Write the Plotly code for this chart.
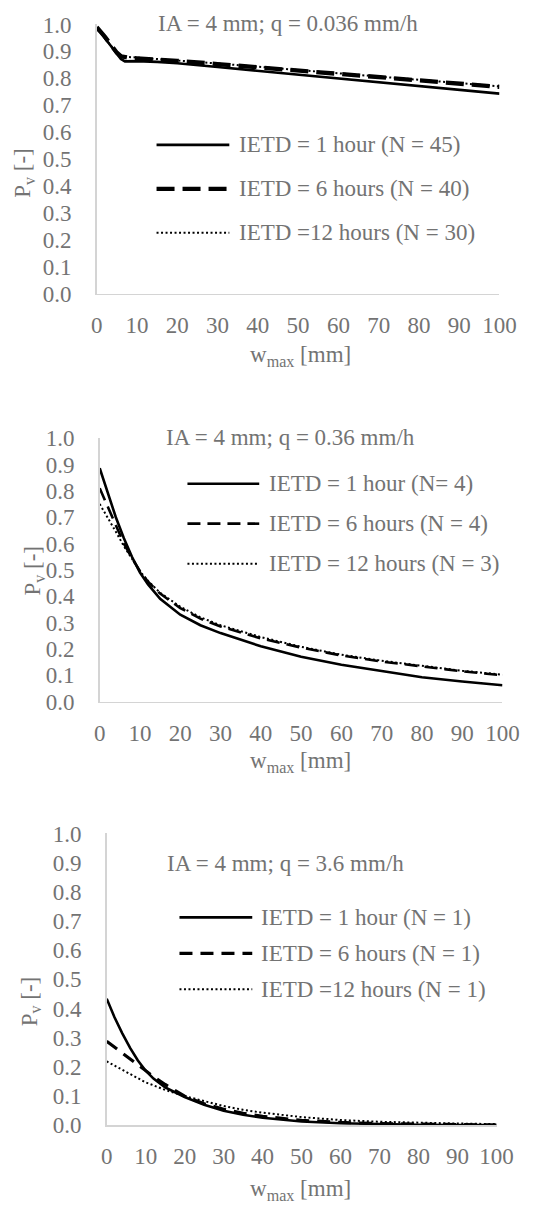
import plotly.graph_objects as go

# ---------------- data ----------------
w1 = [0, 1, 2, 3, 4, 5, 6, 7, 8, 10, 15, 20, 30, 40, 50, 60, 70, 80, 90, 100]
p1_1h = [0.985, 0.97, 0.95, 0.93, 0.91, 0.89, 0.872, 0.863, 0.864, 0.864, 0.861, 0.856, 0.842, 0.828, 0.813, 0.798, 0.784, 0.770, 0.756, 0.743]
p1_6h = [0.99, 0.975, 0.955, 0.935, 0.915, 0.895, 0.882, 0.877, 0.876, 0.874, 0.870, 0.865, 0.853, 0.841, 0.829, 0.817, 0.805, 0.793, 0.781, 0.768]
p1_12h = [0.985, 0.97, 0.95, 0.93, 0.91, 0.893, 0.883, 0.880, 0.879, 0.877, 0.872, 0.867, 0.855, 0.843, 0.831, 0.819, 0.807, 0.795, 0.783, 0.770]

w2 = [0, 2, 4, 6, 8, 10, 12, 15, 20, 25, 30, 40, 50, 60, 70, 80, 90, 100]
p2_1h = [0.886, 0.79, 0.70, 0.62, 0.55, 0.49, 0.445, 0.39, 0.33, 0.29, 0.26, 0.21, 0.17, 0.14, 0.115, 0.092, 0.076, 0.062]
p2_6h = [0.81, 0.74, 0.67, 0.60, 0.545, 0.495, 0.455, 0.41, 0.355, 0.315, 0.285, 0.24, 0.205, 0.175, 0.152, 0.133, 0.115, 0.10]
p2_12h = [0.75, 0.70, 0.645, 0.59, 0.54, 0.495, 0.458, 0.413, 0.36, 0.32, 0.29, 0.245, 0.208, 0.178, 0.155, 0.135, 0.117, 0.102]

w3 = [0, 2, 4, 6, 8, 10, 12, 15, 20, 25, 30, 35, 40, 50, 60, 70, 80, 90, 100]
p3_1h = [0.434, 0.37, 0.315, 0.265, 0.222, 0.187, 0.16, 0.13, 0.097, 0.07, 0.05, 0.036, 0.026, 0.013, 0.007, 0.004, 0.002, 0.001, 0.0005]
p3_6h = [0.288, 0.268, 0.248, 0.226, 0.205, 0.185, 0.167, 0.14, 0.10, 0.074, 0.055, 0.041, 0.031, 0.017, 0.010, 0.006, 0.004, 0.002, 0.001]
p3_12h = [0.219, 0.205, 0.19, 0.176, 0.162, 0.147, 0.137, 0.121, 0.10, 0.082, 0.066, 0.053, 0.043, 0.028, 0.018, 0.012, 0.008, 0.006, 0.004]

titles = ["IA = 4 mm; q = 0.036 mm/h", "IA = 4 mm; q = 0.36 mm/h", "IA = 4 mm; q = 3.6 mm/h"]
legend_names = [
    ["IETD = 1 hour (N = 45)", "IETD = 6 hours (N = 40)", "IETD =12 hours (N = 30)"],
    ["IETD = 1 hour (N= 4)", "IETD = 6 hours (N = 4)", "IETD = 12 hours (N = 3)"],
    ["IETD = 1 hour (N = 1)", "IETD = 6 hours (N = 1)", "IETD =12 hours (N = 1)"],
]
x_ticks = [0, 10, 20, 30, 40, 50, 60, 70, 80, 90, 100]
y_ticks = [0.0, 0.1, 0.2, 0.3, 0.4, 0.5, 0.6, 0.7, 0.8, 0.9, 1.0]
x_title = "w<sub>max</sub> [mm]"
y_title = "P<sub>v</sub> [-]"

# ---------------- styling / layout ----------------
W, H = 536, 1212
FONT = "'Liberation Serif', 'Times New Roman', Times, 'DejaVu Serif', serif"
GRAY = "#737373"
AXIS = "#d4d4d4"
FS = 23

# the photographed page appears slightly scaled; compensate target pixel positions
SX, OX = 0.96, 5.0
SY, OY = 0.98, 11.0

def px(x):
    return ((x - OX) / SX) / W

def py(y):
    return 1 - ((y - OY) / SY) / H

panels = [
    dict(w=w1, ys=[p1_1h, p1_6h, p1_12h],
         xdom=(96, 500), ydom=(292.7, 23.5),
         widths=[2.6, 4.3, 2.0], dashes=["solid", "18px,8px", "2px,2.5px"],
         title_pos=(288, 23), ytitle_pos=(23, 172), xtitle_pos=(300, 355),
         leg=dict(x0=156, x1=229, tx=237, ys=[144, 188, 232])),
    dict(w=w2, ys=[p2_1h, p2_6h, p2_12h],
         xdom=(99, 503), ydom=(701, 437.5),
         widths=[2.6, 2.6, 2.0], dashes=["solid", "13px,7px", "2px,2.5px"],
         title_pos=(290, 437), ytitle_pos=(33, 570), xtitle_pos=(300, 761),
         leg=dict(x0=187, x1=259, tx=267, ys=[483, 523, 563])),
    dict(w=w3, ys=[p3_1h, p3_6h, p3_12h],
         xdom=(106, 497), ydom=(1125, 833),
         widths=[2.6, 3.1, 2.0], dashes=["solid", "13px,8px", "2px,2.5px"],
         title_pos=(285, 863), ytitle_pos=(30, 1001), xtitle_pos=(300, 1190),
         leg=dict(x0=179, x1=252, tx=259, ys=[917, 953, 989])),
]

fig = go.Figure()
annotations = []
shapes = []
layout_axes = {}

for i, p in enumerate(panels):
    n = "" if i == 0 else str(i + 1)
    xa, ya = "x" + n, "y" + n
    for j in range(3):
        fig.add_trace(go.Scatter(
            x=p["w"], y=p["ys"][j], mode="lines", xaxis=xa, yaxis=ya,
            name=legend_names[i][j], showlegend=False,
            line=dict(color="black", width=p["widths"][j], dash=p["dashes"][j]),
            hoverinfo="skip"))
    layout_axes["xaxis" + n] = dict(
        domain=[px(p["xdom"][0]), px(p["xdom"][1])], anchor=ya, range=[0, 100],
        tickvals=x_ticks, showgrid=False, zeroline=False, showline=True,
        linecolor=AXIS, linewidth=1.5, ticks="outside", ticklen=10,
        tickcolor="rgba(0,0,0,0)", tickfont=dict(family=FONT, size=FS, color=GRAY))
    layout_axes["yaxis" + n] = dict(
        domain=[py(p["ydom"][0]), py(p["ydom"][1])], anchor=xa, range=[0, 1],
        tickvals=y_ticks, tickformat=".1f", showgrid=False, zeroline=False,
        showline=True, linecolor=AXIS, linewidth=1.5, ticks="outside", ticklen=19,
        tickcolor="rgba(0,0,0,0)", tickfont=dict(family=FONT, size=FS, color=GRAY))

    # panel title
    annotations.append(dict(text=titles[i], x=px(p["title_pos"][0]), y=py(p["title_pos"][1]),
                            xref="paper", yref="paper", showarrow=False,
                            xanchor="center", yanchor="middle",
                            font=dict(family=FONT, size=FS, color=GRAY)))
    # axis titles
    annotations.append(dict(text=y_title, x=px(p["ytitle_pos"][0]), y=py(p["ytitle_pos"][1]),
                            xref="paper", yref="paper", showarrow=False, textangle=-90,
                            xanchor="center", yanchor="middle",
                            font=dict(family=FONT, size=FS, color=GRAY)))
    annotations.append(dict(text=x_title, x=px(p["xtitle_pos"][0]), y=py(p["xtitle_pos"][1]),
                            xref="paper", yref="paper", showarrow=False,
                            xanchor="center", yanchor="middle",
                            font=dict(family=FONT, size=FS, color=GRAY)))
    # legend
    lg = p["leg"]
    for j in range(3):
        shapes.append(dict(type="line", xref="paper", yref="paper",
                           x0=px(lg["x0"]), x1=px(lg["x1"]), y0=py(lg["ys"][j]), y1=py(lg["ys"][j]),
                           line=dict(color="black", width=p["widths"][j], dash=p["dashes"][j])))
        annotations.append(dict(text=legend_names[i][j], x=px(lg["tx"]), y=py(lg["ys"][j]),
                                xref="paper", yref="paper", showarrow=False,
                                xanchor="left", yanchor="middle",
                                font=dict(family=FONT, size=FS, color=GRAY)))

fig.update_layout(
    width=W, height=H, margin=dict(l=0, r=0, t=0, b=0),
    paper_bgcolor="white", plot_bgcolor="white",
    font=dict(family=FONT, size=FS, color=GRAY),
    showlegend=False, annotations=annotations, shapes=shapes,
    **layout_axes)

fig.write_html(
    "out.html",
    config={"displayModeBar": False, "staticPlot": True},
    post_script="document.body.style.margin='0px';document.body.style.padding='0px';"
                "document.documentElement.style.overflow='hidden';")
